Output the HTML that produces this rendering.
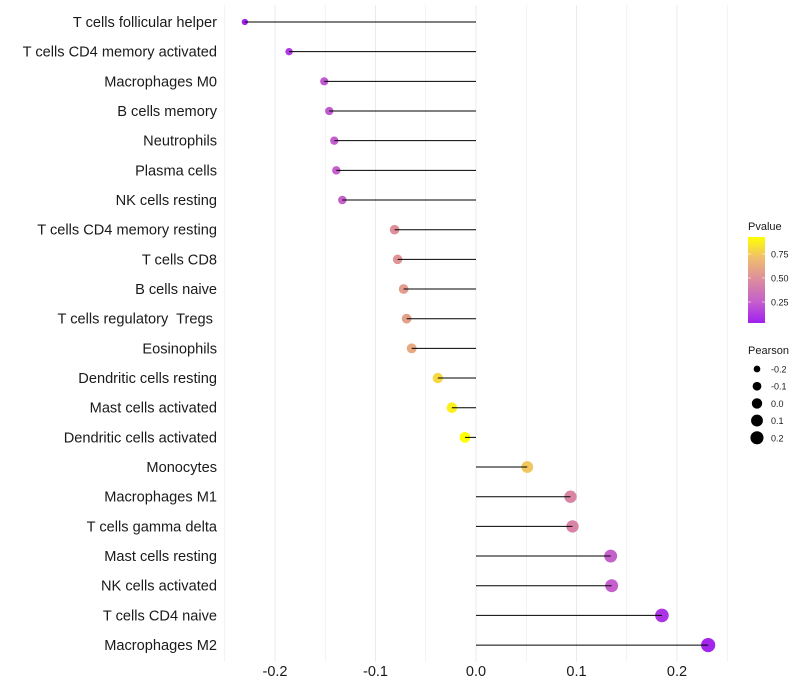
<!DOCTYPE html>
<html><head><meta charset="utf-8"><style>
body{margin:0;background:#fff;}
svg{display:block;font-family:"Liberation Sans",sans-serif;}
text{white-space:pre;}
</style></head><body>
<svg id="chart" width="800" height="700"></svg>
<script>
const categories=["T cells follicular helper","T cells CD4 memory activated","Macrophages M0","B cells memory","Neutrophils","Plasma cells","NK cells resting","T cells CD4 memory resting","T cells CD8","B cells naive","T cells regulatory  Tregs ","Eosinophils","Dendritic cells resting","Mast cells activated","Dendritic cells activated","Monocytes","Macrophages M1","T cells gamma delta","Mast cells resting","NK cells activated","T cells CD4 naive","Macrophages M2"];
const pearson=[-0.230,-0.186,-0.151,-0.146,-0.141,-0.139,-0.133,-0.081,-0.078,-0.072,-0.069,-0.064,-0.038,-0.024,-0.011,0.051,0.094,0.096,0.134,0.135,0.185,0.231];
const pvalues=[0.03,0.12,0.22,0.23,0.24,0.25,0.26,0.50,0.52,0.56,0.58,0.62,0.80,0.88,0.93,0.74,0.45,0.44,0.26,0.25,0.10,0.05];
const xTicks=[-0.2,-0.1,0.0,0.1,0.2];
const xTickLabels=["-0.2","-0.1","0.0","0.1","0.2"];
const cbTicks=[0.25,0.50,0.75];
const sizeTicks=[-0.2,-0.1,0.0,0.1,0.2];

const NS="http://www.w3.org/2000/svg";
const svg=document.getElementById('chart');
function mk(t,a,p){const e=document.createElementNS(NS,t);for(const k in a)e.setAttribute(k,a[k]);(p||svg).appendChild(e);return e;}
const xs=v=>476+v*1005;
const ys=i=>22+i*29.67;
const rs=v=>Math.sqrt(Math.max(2.4,30+88*v));
const stops=[[160,32,240],[197,96,204],[219,140,158],[239,188,112],[255,255,0]];
function col(p){let t=(p-0.03)/0.9;t=Math.max(0,Math.min(1,t))*4;
 const i=Math.min(3,Math.floor(t)),f=t-i,a=stops[i],b=stops[i+1];
 return `rgb(${a.map((x,k)=>Math.round(x+(b[k]-x)*f))})`;}

// grid
for(let v=-0.25;v<=0.2501;v+=0.05){
 const g=mk('line',{x1:xs(v),x2:xs(v),y1:5,y2:662,stroke:'#ebebeb','stroke-width':Math.abs(Math.round(v*100)%10)<1?1:0.6});
 
}
xTicks.forEach((v,i)=>{const t=mk('text',{x:xs(v),y:676,'text-anchor':'middle','font-size':14.5,fill:'#1a1a1a'});t.textContent=xTickLabels[i];
});

categories.forEach((c,i)=>{
 const y=ys(i);
 const l=mk('text',{x:217,y:y+5,'text-anchor':'end','font-size':14.6,fill:'#1a1a1a'});l.textContent=c;
 
 const d=mk('circle',{cx:xs(pearson[i]),cy:y,r:rs(pearson[i]),fill:col(pvalues[i])});
 
 const s=mk('line',{x1:xs(0),x2:xs(pearson[i]),y1:y,y2:y,stroke:'#000','stroke-width':1});
 
});

// colorbar legend
const lg=mk('g',{});
const tt=mk('text',{x:748,y:230,'font-size':11,fill:'#1a1a1a'},lg);tt.textContent='Pvalue';
const defs=mk('defs',{});const gr=mk('linearGradient',{id:'cb',x1:0,y1:1,x2:0,y2:0},defs);
[0,0.25,0.5,0.75,1].forEach(o=>mk('stop',{offset:o,'stop-color':col(0.03+o*0.9)},gr));
mk('rect',{x:748,y:237,width:17,height:86,fill:'url(#cb)'},lg);
const cby=p=>254+(0.75-p)*96;
cbTicks.forEach(p=>{mk('line',{x1:748,x2:751,y1:cby(p),y2:cby(p),stroke:'#fff','stroke-width':0.6},lg);mk('line',{x1:762,x2:765,y1:cby(p),y2:cby(p),stroke:'#fff','stroke-width':0.6},lg);
 const t=mk('text',{x:771,y:cby(p)+3.5,'font-size':9,fill:'#1a1a1a'},lg);t.textContent=p.toFixed(2);});

const sl=mk('g',{});
const st=mk('text',{x:748,y:354,'font-size':11,fill:'#1a1a1a'},sl);st.textContent='Pearson';
sizeTicks.forEach((v,i)=>{const y=369+i*17.2;mk('circle',{cx:757,cy:y,r:Math.min(7,rs(v)*0.95),fill:'#000'},sl);
 const t=mk('text',{x:771,y:y+3.5,'font-size':9,fill:'#1a1a1a'},sl);t.textContent=v.toFixed(1);});
</script>
</body></html>
